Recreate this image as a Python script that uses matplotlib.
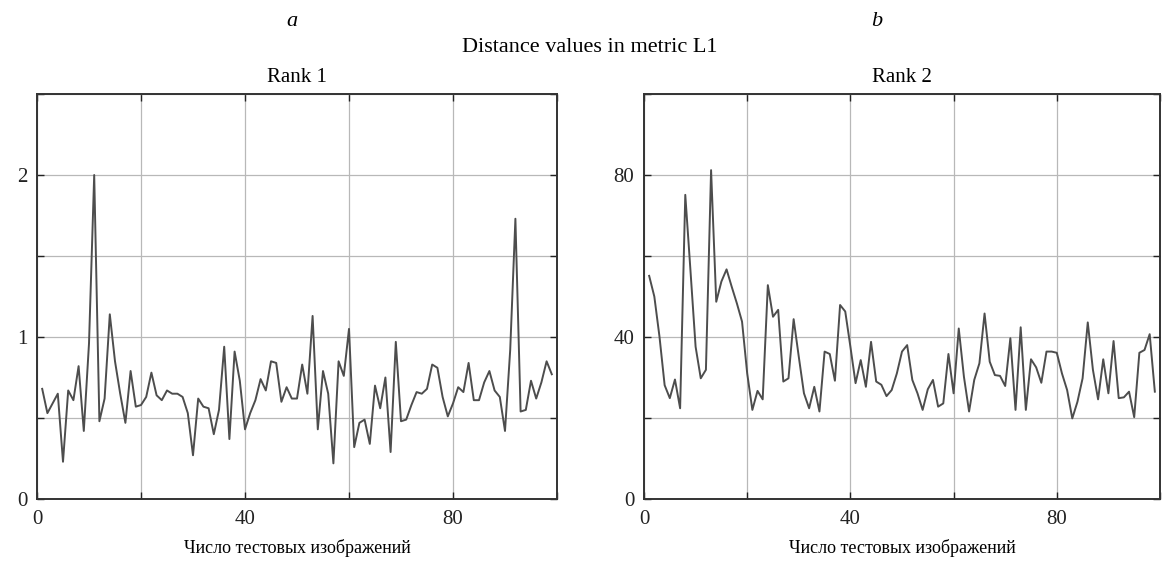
import numpy as np
import matplotlib
matplotlib.use("Agg")
import matplotlib.pyplot as plt
from matplotlib.ticker import MultipleLocator, FuncFormatter

# distance values, images 1..99
rank1 = [0.68, 0.53, 0.59, 0.65, 0.23, 0.67, 0.61, 0.82, 0.42, 0.96,
         2.00, 0.48, 0.62, 1.14, 0.85, 0.65, 0.47, 0.79, 0.57, 0.58,
         0.63, 0.78, 0.64, 0.61, 0.67, 0.65, 0.65, 0.63, 0.53, 0.27,
         0.62, 0.57, 0.56, 0.40, 0.55, 0.94, 0.37, 0.91, 0.73, 0.43,
         0.53, 0.61, 0.74, 0.67, 0.85, 0.84, 0.60, 0.69, 0.62, 0.62,
         0.83, 0.65, 1.13, 0.43, 0.79, 0.65, 0.22, 0.85, 0.76, 1.05,
         0.32, 0.47, 0.49, 0.34, 0.70, 0.56, 0.75, 0.29, 0.97, 0.48,
         0.49, 0.58, 0.66, 0.65, 0.68, 0.83, 0.81, 0.63, 0.51, 0.59,
         0.69, 0.66, 0.84, 0.61, 0.61, 0.72, 0.79, 0.67, 0.63, 0.42,
         0.92, 1.73, 0.54, 0.55, 0.73, 0.62, 0.72, 0.85, 0.77]
rank2 = [55.1, 50.0, 40.1, 28.1, 24.9, 29.5, 22.4, 75.1, 56.5, 37.6,
         29.8, 31.9, 81.2, 48.7, 53.7, 56.7, 52.4, 48.3, 43.8, 31.0,
         22.0, 26.7, 24.6, 52.8, 45.0, 46.7, 29.0, 29.8, 44.4, 35.1,
         26.1, 22.4, 27.7, 21.6, 36.4, 35.8, 29.2, 47.9, 46.3, 37.6,
         28.6, 34.3, 27.7, 38.8, 29.0, 28.2, 25.4, 26.9, 31.0, 36.4,
         38.0, 29.4, 26.1, 22.0, 27.1, 29.4, 22.8, 23.6, 35.8, 26.1,
         42.1, 30.2, 21.6, 29.4, 33.5, 45.8, 33.9, 30.6, 30.4, 27.9,
         39.7, 22.0, 42.4, 22.0, 34.5, 32.5, 28.7, 36.4, 36.4, 36.1,
         31.0, 26.9, 19.9, 24.0, 29.8, 43.6, 31.9, 24.6, 34.5, 26.1,
         39.0, 24.9, 25.1, 26.5, 20.2, 36.1, 36.8, 40.7, 26.5]
images = np.arange(1, len(rank1) + 1)

xlabel = "Число тестовых изображений"
plt.rcParams["font.family"] = ["Liberation Serif", "DejaVu Serif"]
plt.rcParams["font.size"] = 14

fig = plt.figure(figsize=(11.62, 5.61), dpi=100)
ax1 = fig.add_axes([37/1162, 62/561, 520/1162, 405/561])
ax2 = fig.add_axes([644/1162, 62/561, 516/1162, 405/561])


def style(ax, ymax, ystep, ylab):
    ax.set_xlim(0, 100)
    ax.set_ylim(0, ymax)
    ax.xaxis.set_major_locator(MultipleLocator(20))
    ax.yaxis.set_major_locator(MultipleLocator(ystep))
    ax.xaxis.set_major_formatter(FuncFormatter(
        lambda v, p: "%d" % v if int(round(v)) in (0, 40, 80) else ""))
    ax.yaxis.set_major_formatter(FuncFormatter(
        lambda v, p: "%g" % v if any(abs(v - l) < 1e-6 for l in ylab) else ""))
    ax.tick_params(direction="in", top=True, right=True, length=5,
                   width=1, labelsize=15, colors="#222222")
    ax.tick_params(axis="x", pad=8)
    ax.tick_params(axis="y", pad=7)
    ax.grid(True, color="#b8b8b8", lw=0.9)
    for s in ax.spines.values():
        s.set_color("#333333")
        s.set_linewidth(1.4)
    ax.set_xlabel(xlabel, fontsize=13, labelpad=7)


ax1.plot(images, rank1, color="#4d4d4d", lw=1.4)
style(ax1, 2.5, 0.5, [0, 1, 2])
ax1.set_title("Rank 1", fontsize=15, pad=9)

ax2.plot(images, rank2, color="#4d4d4d", lw=1.4)
style(ax2, 100, 20, [0, 40, 80])
ax2.set_title("Rank 2", fontsize=15, pad=9)

fig.text(292/1162, 1 - 22/561, "a", style="italic", ha="center", va="center", fontsize=16)
fig.text(877/1162, 1 - 22/561, "b", style="italic", ha="center", va="center", fontsize=16)
fig.text(590/1162, 1 - 47/561, "Distance values in metric L1", ha="center", va="center", fontsize=16)

fig.savefig("out.png", dpi=100)
